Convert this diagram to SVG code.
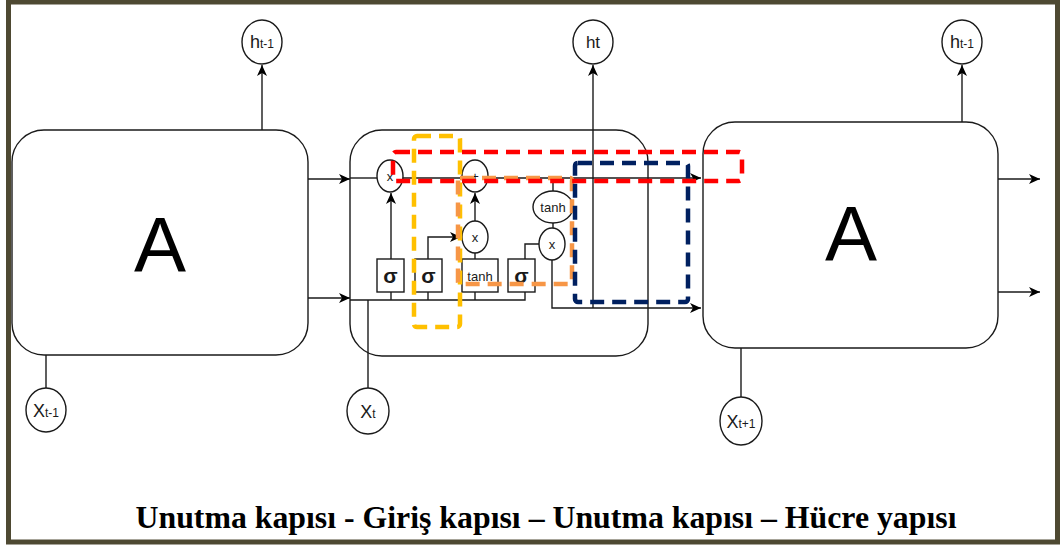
<svg xmlns="http://www.w3.org/2000/svg" width="1060" height="546" viewBox="0 0 1060 546">
  <style>
    .box { fill: #fff; stroke: #1a1a1a; stroke-width: 1.4; }
    .node { fill: #fff; stroke: #1a1a1a; stroke-width: 1.4; }
    .wire { fill: none; stroke: #1a1a1a; stroke-width: 1.4; }
    .big { font-family: "Liberation Sans", Arial, sans-serif; font-size: 78px; fill: #000; text-anchor: middle; }
    .lbl { font-family: "Liberation Sans", Arial, sans-serif; fill: #1a1a1a; text-anchor: middle; }
    .sig { font-family: "Liberation Sans", Arial, sans-serif; font-weight: bold; font-size: 21px; fill: #1a1a1a; text-anchor: middle; }
    .dash { fill: none; stroke-width: 4.5; stroke-dasharray: 14 8; }
    .caption { font-family: "Liberation Serif", "Times New Roman", serif; font-weight: bold; font-size: 31.8px; fill: #000; text-anchor: middle; }
  </style>
  <defs>
    <marker id="arr" markerUnits="userSpaceOnUse" markerWidth="12" markerHeight="10" refX="11" refY="5" orient="auto">
      <path d="M0,0 L11,5 L0,10 L3,5 Z" fill="#000"/>
    </marker>
  </defs>

  <!-- outer frame -->
  <rect x="8.5" y="2" width="1049" height="540" fill="#fff" stroke="#4e4932" stroke-width="5"/>

  <!-- connectors -->
  <g id="connectors">
    <!-- outputs to hidden-state circles -->
    <line class="wire" x1="262" y1="130" x2="262" y2="65" marker-end="url(#arr)"/>
    <line class="wire" x1="593" y1="308" x2="593" y2="65" marker-end="url(#arr)"/>
    <line class="wire" x1="962" y1="122" x2="962" y2="65" marker-end="url(#arr)"/>
    <!-- inputs from x circles -->
    <line class="wire" x1="46" y1="355" x2="46" y2="388"/>
    <line class="wire" x1="368" y1="300" x2="368" y2="388"/>
    <line class="wire" x1="741" y1="348" x2="741" y2="397"/>
    <!-- between cells -->
    <line class="wire" x1="308" y1="179" x2="350" y2="179" marker-end="url(#arr)"/>
    <line class="wire" x1="308" y1="298" x2="350" y2="298" marker-end="url(#arr)"/>
    <!-- cell state path -->
    <line class="wire" x1="350" y1="178" x2="377" y2="178"/>
    <line class="wire" x1="403" y1="178" x2="462" y2="178"/>
    <line class="wire" x1="488" y1="178" x2="701" y2="178" marker-end="url(#arr)"/>
    <!-- hidden/input bus -->
    <polyline class="wire" points="350,300 525,300 525,292"/>
    <line class="wire" x1="391" y1="292" x2="391" y2="300"/>
    <line class="wire" x1="428" y1="292" x2="428" y2="300"/>
    <line class="wire" x1="475" y1="292" x2="475" y2="300"/>
    <!-- gate outputs -->
    <line class="wire" x1="391" y1="259" x2="391" y2="193" marker-end="url(#arr)"/>
    <polyline class="wire" points="428,259 428,237 461,237" marker-end="url(#arr)"/>
    <line class="wire" x1="475" y1="259" x2="475" y2="253"/>
    <line class="wire" x1="475" y1="221" x2="475" y2="193" marker-end="url(#arr)"/>
    <polyline class="wire" points="525,259 525,244 539,244"/>
    <line class="wire" x1="553" y1="178" x2="553" y2="191"/>
    <line class="wire" x1="553" y1="223" x2="553" y2="228"/>
    <polyline class="wire" points="552,260 552,308 701,308" marker-end="url(#arr)"/>
    <!-- outputs of right cell -->
    <line class="wire" x1="998" y1="179" x2="1040" y2="179" marker-end="url(#arr)"/>
    <line class="wire" x1="998" y1="292" x2="1040" y2="292" marker-end="url(#arr)"/>
  </g>

  <!-- left cell -->
  <g id="cell-prev">
    <rect class="box" x="12" y="130" width="296" height="225" rx="32"/>
    <text class="big" x="160" y="272">A</text>
  </g>

  <!-- middle cell (outline only, wires run through it) -->
  <g id="cell-current">
    <rect class="box" x="350" y="130" width="298" height="226" rx="32" style="fill:none"/>
  </g>

  <!-- right cell -->
  <g id="cell-next">
    <rect class="box" x="703" y="122" width="295" height="226" rx="32"/>
    <text class="big" x="851" y="261">A</text>
  </g>

  <!-- gates -->
  <g id="gate-forget">
    <rect class="node" x="377" y="259" width="27" height="33"/>
    <text class="sig" x="390.5" y="283">σ</text>
  </g>
  <g id="gate-input">
    <rect class="node" x="415" y="259" width="27" height="33"/>
    <text class="sig" x="428.5" y="283">σ</text>
  </g>
  <g id="gate-candidate">
    <rect class="node" x="462" y="259" width="36" height="33"/>
    <text class="lbl" x="480" y="281" font-size="13">tanh</text>
  </g>
  <g id="gate-output">
    <rect class="node" x="508" y="259" width="27" height="33"/>
    <text class="sig" x="521.5" y="283">σ</text>
  </g>

  <!-- pointwise operations -->
  <g id="op-mul-forget">
    <ellipse class="node" cx="390" cy="176" rx="13" ry="16"/>
    <text class="lbl" x="390" y="181" font-size="13">x</text>
  </g>
  <g id="op-add">
    <ellipse class="node" cx="475" cy="176" rx="13" ry="16"/>
    <text class="lbl" x="475" y="181" font-size="13">+</text>
  </g>
  <g id="op-mul-input">
    <ellipse class="node" cx="475" cy="237" rx="13" ry="16"/>
    <text class="lbl" x="475" y="242" font-size="13">x</text>
  </g>
  <g id="op-tanh">
    <ellipse class="node" cx="553" cy="207" rx="20" ry="16"/>
    <text class="lbl" x="553" y="212" font-size="13">tanh</text>
  </g>
  <g id="op-mul-output">
    <ellipse class="node" cx="552" cy="244" rx="13" ry="16"/>
    <text class="lbl" x="552" y="249" font-size="13">x</text>
  </g>

  <!-- hidden states -->
  <g id="h-prev">
    <ellipse class="node" cx="262" cy="42" rx="20" ry="22"/>
    <text class="lbl" x="262" y="48"><tspan font-size="18">h</tspan><tspan font-size="12">t-1</tspan></text>
  </g>
  <g id="h-current">
    <ellipse class="node" cx="593" cy="42" rx="20" ry="22"/>
    <text class="lbl" x="593" y="48" font-size="17">ht</text>
  </g>
  <g id="h-next">
    <ellipse class="node" cx="962" cy="42" rx="20" ry="22"/>
    <text class="lbl" x="962" y="48"><tspan font-size="18">h</tspan><tspan font-size="12">t-1</tspan></text>
  </g>

  <!-- inputs -->
  <g id="x-prev">
    <ellipse class="node" cx="46" cy="410" rx="20" ry="22"/>
    <text class="lbl" x="46" y="417"><tspan font-size="18">X</tspan><tspan font-size="12">t-1</tspan></text>
  </g>
  <g id="x-current">
    <ellipse class="node" cx="368" cy="411" rx="21" ry="23"/>
    <text class="lbl" x="368" y="418"><tspan font-size="18">X</tspan><tspan font-size="12">t</tspan></text>
  </g>
  <g id="x-next">
    <ellipse class="node" cx="741" cy="421" rx="21" ry="24"/>
    <text class="lbl" x="741" y="428"><tspan font-size="18">X</tspan><tspan font-size="12">t+1</tspan></text>
  </g>

  <!-- highlighted regions -->
  <g id="highlights">
    <rect class="dash" x="414" y="136" width="46" height="191" rx="3" stroke="#FFC000"/>
    <rect class="dash" x="458" y="178" width="114" height="106" rx="2" stroke="#F79646"/>
    <rect class="dash" x="575" y="163" width="113" height="139" rx="3" stroke="#002060"/>
    <rect class="dash" x="393" y="152" width="349" height="29" rx="3" stroke="#FF0000"/>
  </g>

  <!-- caption -->
  <text class="caption" x="546" y="528">Unutma kapısı - Giriş kapısı – Unutma kapısı – Hücre yapısı</text>
</svg>
